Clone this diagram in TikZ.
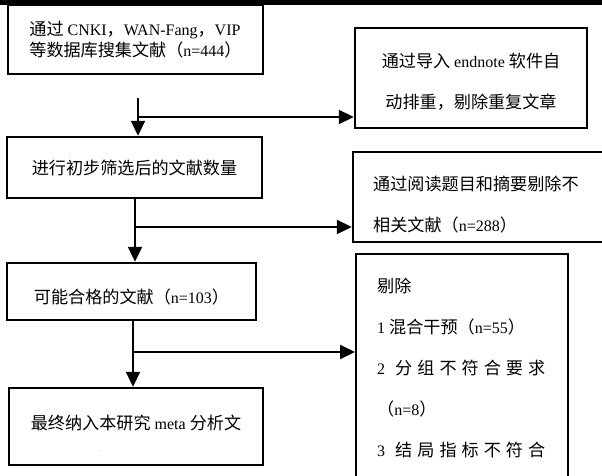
\documentclass[tikz,border=0pt]{standalone}
\usepackage{fontspec}
\setmainfont{Liberation Serif}
\newfontfamily\cjk[Scale=1.07]{Noto Sans CJK SC}
\newcommand\C[1]{{\cjk #1}}
\usetikzlibrary{arrows.meta}
\tikzset{
  box/.style={draw=black, line width=2.4pt, inner sep=0pt, fill=white},
  conn/.style={draw=black, line width=2pt},
  arr/.style={conn, -{Triangle[length=15pt,width=14pt]}},
  txt/.style={inner sep=0pt, font=\fontsize{16}{20}\selectfont},
}
\begin{document}
\begin{tikzpicture}[x=1pt,y=-1pt]
\useasboundingbox (0,0) rectangle (602,476);
\clip (0,0) rectangle (602,476);
\fill[white] (0,0) rectangle (602,476);
% top rule
\fill[black] (0,0) rectangle (602,5);
% left column boxes
\node[box, minimum width=255, minimum height=69] (b1) at (135.5,39.5) {};
\node[txt, align=left] (t1) at (135.5,39.5) {\C{通过} CNKI\C{，}WAN-Fang\C{，}VIP\\[1pt]\C{等数据库搜集文献（}n=444\C{）}};
\node[box, minimum width=255, minimum height=61] (b2) at (134.5,167.5) {};
\node[txt] (t2) at (134.5,168) {\C{进行初步筛选后的文献数量}};
\node[box, minimum width=249, minimum height=57] (b3) at (131.5,291.5) {};
\node[txt] (t3) at (131.5,297) {\C{可能合格的文献（}n=103\C{）}};
\node[box, minimum width=254, minimum height=77] (b4) at (136,426.5) {};
\node[txt] (t4) at (136,423) {\C{最终纳入本研究} meta \C{分析文}};
\node[inner sep=0pt, font=\tiny, text=gray] (t4b) at (100,451) {.\,.};
% right column boxes
\node[box, minimum width=232, minimum height=100] (r1) at (471,78) {};
\node[txt, align=center] (tr1) at (471,82) {\C{通过导入} endnote \C{软件自}\\[21pt]\C{动排重，剔除重复文章}};
\node[box, minimum width=252, minimum height=90] (r2) at (479,197) {};
\node[txt, align=left, anchor=west] (tr2) at (373,205) {\C{通过阅读题目和摘要剔除不}\\[21pt]\C{相关文献（}n=288\C{）}};
\node[box, minimum width=212, minimum height=260, anchor=north west] (r3) at (355,253) {};
\node[txt, align=left, anchor=north west] (tr3) at (377,278) {\C{剔除}\\[21pt]
1 \C{混合干预（}n=55\C{）}\\[21pt]
\makebox[168pt][s]{2\hfill\hfill\C{分}\hfill\C{组}\hfill\C{不}\hfill\C{符}\hfill\C{合}\hfill\C{要}\hfill\C{求}}\\[21pt]
\C{（}n=8\C{）}\\[21pt]
\makebox[168pt][s]{3\hfill\hfill\C{结}\hfill\C{局}\hfill\C{指}\hfill\C{标}\hfill\C{不}\hfill\C{符}\hfill\C{合}}};
% connectors
\coordinate (s1) at (138,98);
\coordinate (j1) at (138,117);
\draw[arr] (s1) -- (s1 |- b2.north);
\draw[arr] (j1) -- (j1 -| r1.west);
\coordinate (j2) at (135,227);
\draw[arr] (j2 |- b2.south) -- (j2 |- b3.north);
\draw[arr] (j2) -- (j2 -| r2.west);
\coordinate (j3) at (133,352);
\draw[arr] (j3 |- b3.south) -- (j3 |- b4.north);
\draw[arr] (j3) -- (j3 -| r3.west);
\end{tikzpicture}
\end{document}
